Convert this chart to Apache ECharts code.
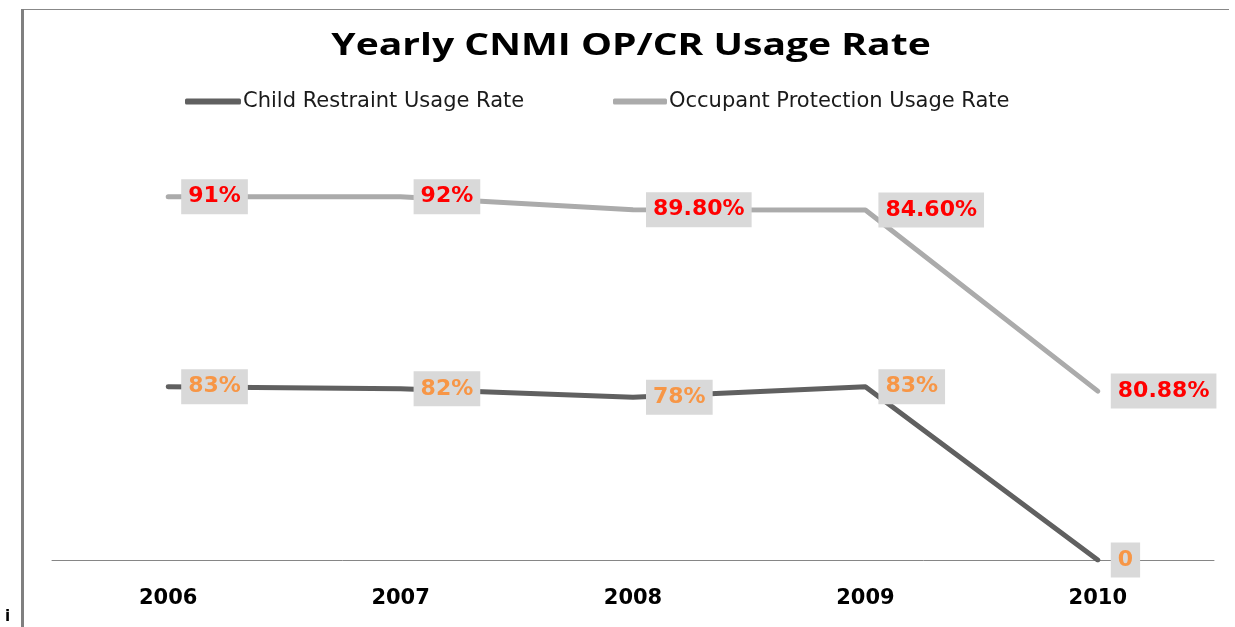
<!DOCTYPE html>
<html>
<head>
<meta charset="utf-8">
<script src="https://cdn.jsdelivr.net/npm/echarts@6/dist/echarts.min.js"></script>
<style>
html,body{margin:0;padding:0;background:#fff;}
#chart{width:1235px;height:627px;}
</style>
</head>
<body>
<div id="chart"></div>
<script>
const years = ['2006', '2007', '2008', '2009', '2010'];
const crValues = [83, 82, 78, 83, 0];
const opValues = [91, 92, 89.8, 84.6, 80.88];
const crLabels = ['83%', '82%', '78%', '83%', '0'];
const opLabels = ['91%', '92%', '89.80%', '84.60%', '80.88%'];
const titleText = 'Yearly CNMI OP/CR Usage Rate';
const crName = 'Child Restraint Usage Rate';
const opName = 'Occupant Protection Usage Rate';

const chart = echarts.init(document.getElementById('chart'), null, {renderer: 'canvas'});

function labelCfg(texts, color) {
  return {
    show: true,
    position: 'right',
    distance: 12,
    formatter: p => texts[p.dataIndex],
    color: color,
    fontFamily: 'DejaVu Sans',
    fontWeight: 'bold',
    fontSize: 22,
    lineHeight: 23,
    backgroundColor: '#d9d9d9',
    padding: [6, 7, 6, 7]
  };
}

const legendText = {
  fontFamily: 'DejaVu Sans',
  fontSize: 21,
  color: '#1a1a1a',
  padding: [0, 0, 0, -3]
};

chart.setOption({
  animation: false,
  backgroundColor: '#ffffff',
  legend: [
    {
      left: 180, top: 86, itemWidth: 56, itemHeight: 6, icon: 'roundRect',
      textStyle: legendText, data: [crName]
    },
    {
      left: 608, top: 86, itemWidth: 54, itemHeight: 6, icon: 'roundRect',
      textStyle: legendText, data: [opName]
    }
  ],
  grid: {left: 52, right: 21, top: 142.4, bottom: 67},
  xAxis: {
    type: 'category',
    data: years,
    boundaryGap: true,
    axisLine: {show: true, lineStyle: {color: '#868686', width: 1}},
    axisTick: {show: false},
    axisLabel: {
      margin: 28,
      color: '#000000',
      fontFamily: 'DejaVu Sans',
      fontWeight: 'bold',
      fontSize: 21
    },
    splitLine: {show: false}
  },
  yAxis: {
    type: 'value',
    min: 0,
    max: 200,
    show: false,
    splitLine: {show: false}
  },
  graphic: [
    {type: 'line', shape: {x1: 21, y1: 9.5, x2: 1229, y2: 9.5}, style: {stroke: '#888888', lineWidth: 1}, silent: true},
    {type: 'line', shape: {x1: 22.5, y1: 9, x2: 22.5, y2: 627}, style: {stroke: '#808080', lineWidth: 3}, silent: true},
    {type: 'text', x: 5, y: 610, style: {text: 'i', fill: '#000', font: 'bold 15px DejaVu Sans'}, silent: true},
    {
      type: 'text', x: 631, y: 46, scaleX: 1.26, scaleY: 1, silent: true,
      style: {
        text: titleText, fill: '#000000', font: 'bold 31px "Open Sans"',
        textAlign: 'center', textVerticalAlign: 'middle'
      }
    }
  ],
  series: [
    {
      name: crName,
      type: 'line',
      stack: 'total',
      data: crValues,
      symbol: 'circle',
      symbolSize: 2,
      showSymbol: true,
      itemStyle: {color: '#606060'},
      lineStyle: {color: '#606060', width: 5, cap: 'round', join: 'round'},
      label: labelCfg(crLabels, '#f79646'),
      z: 3
    },
    {
      name: opName,
      type: 'line',
      stack: 'total',
      data: opValues,
      symbol: 'circle',
      symbolSize: 2,
      showSymbol: true,
      itemStyle: {color: '#ababab'},
      lineStyle: {color: '#ababab', width: 5, cap: 'round', join: 'round'},
      label: labelCfg(opLabels, '#ff0000'),
      z: 2
    }
  ]
});
</script>
</body>
</html>
